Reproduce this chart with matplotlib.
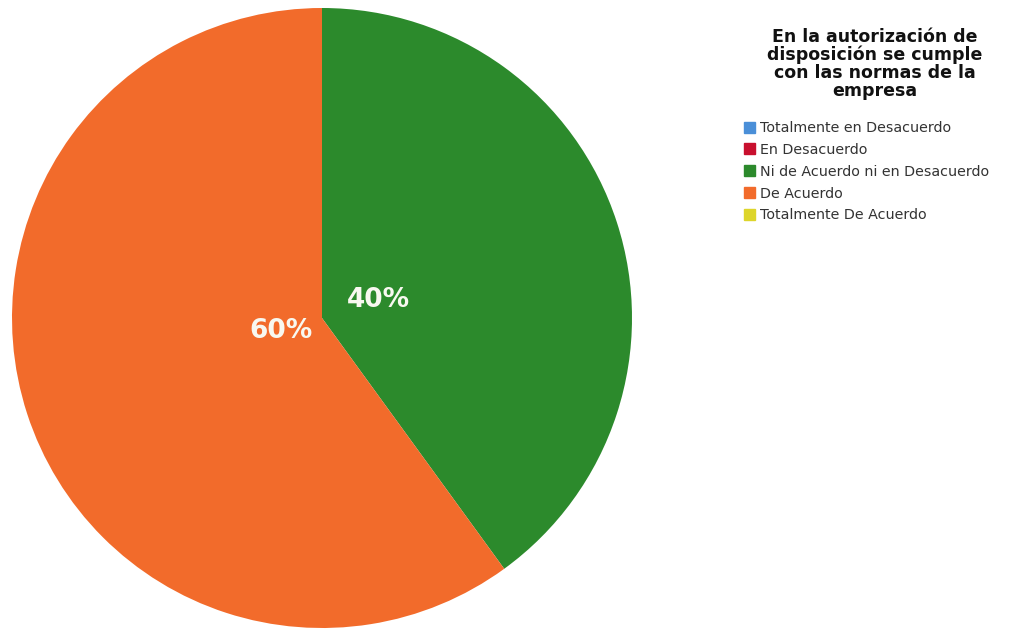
import matplotlib
matplotlib.use("Agg")
import matplotlib.pyplot as plt
import matplotlib.patches as mpatches
import numpy as np

plt.rcParams['font.family'] = ['DejaVu Sans']

title = "En la autorización de\ndisposición se cumple\ncon las normas de la\nempresa"
labels = ["Totalmente en Desacuerdo", "En Desacuerdo",
          "Ni de Acuerdo ni en Desacuerdo", "De Acuerdo",
          "Totalmente De Acuerdo"]
values = [0, 0, 40, 60, 0]
colors = ["#4a8fd8", "#c8102e", "#2c8a2c", "#f26b2b", "#ddd52a"]

fig = plt.figure(figsize=(10.17, 6.3), dpi=100)
ax = fig.add_axes([12 / 1017, 2 / 630, 620 / 1017, 620 / 630])

wedges, _ = ax.pie(values, colors=colors, startangle=90, counterclock=False,
                   wedgeprops=dict(linewidth=0))
ax.set_xlim(-1, 1)
ax.set_ylim(-1, 1)
ax.set_aspect('equal')

# percentage labels near the centre of each non-empty wedge
total = sum(values)
dist = {2: 0.19, 3: 0.14}
for i, w in enumerate(wedges):
    if values[i] == 0:
        continue
    ang = np.deg2rad((w.theta1 + w.theta2) / 2)
    r = dist.get(i, 0.17)
    ax.text(r * np.cos(ang), r * np.sin(ang), f"{values[i] / total:.0%}",
            ha='center', va='center', color='#f8f8f0', fontsize=19,
            fontweight='bold')

fig.text(875 / 1017, 1 - 64 / 630, title, ha='center', va='center',
         fontsize=12.5, fontweight='bold', color='#111111', linespacing=0.98)

handles = [mpatches.Patch(color=c, label=l) for c, l in zip(colors, labels)]
fig.legend(handles=handles, loc='upper left',
           bbox_to_anchor=(744 / 1017, 1 - 121 / 630), frameon=False,
           fontsize=10.3, handlelength=0.8, handleheight=0.8,
           handletextpad=0.3, labelspacing=0.55, borderpad=0,
           borderaxespad=0, labelcolor='#333333')

fig.savefig("out.png", dpi=100)
